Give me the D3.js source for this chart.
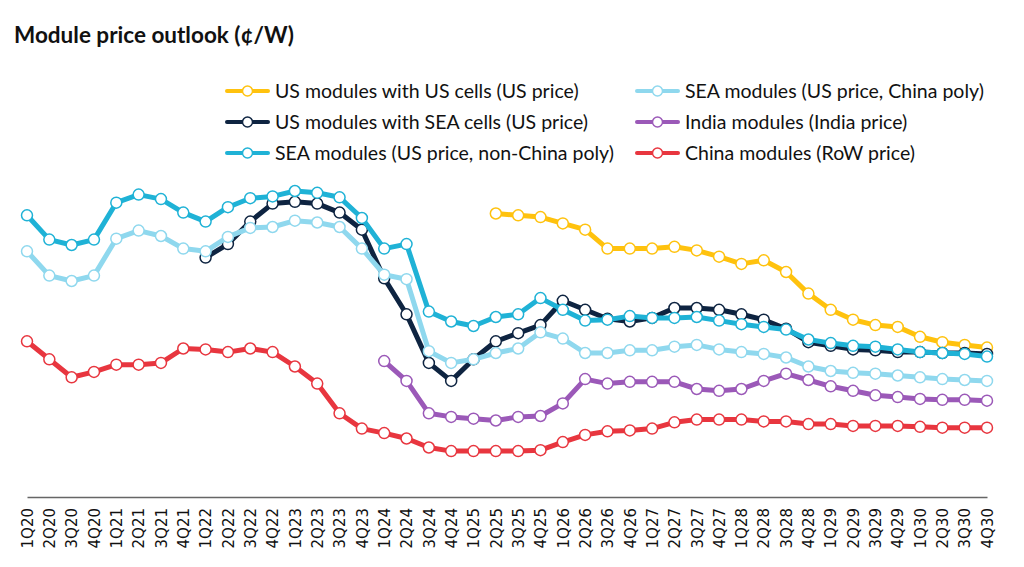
<!DOCTYPE html>
<html>
<head>
<meta charset="utf-8">
<script src="https://cdn.jsdelivr.net/npm/d3@7"></script>
<style>
  html, body { margin: 0; padding: 0; background: #fff; }
  svg { display: block; }
</style>
</head>
<body>
<svg id="chart" width="1024" height="567"></svg>
<script>
const quarters = [
  "1Q20","2Q20","3Q20","4Q20","1Q21","2Q21","3Q21","4Q21",
  "1Q22","2Q22","3Q22","4Q22","1Q23","2Q23","3Q23","4Q23",
  "1Q24","2Q24","3Q24","4Q24","1Q25","2Q25","3Q25","4Q25",
  "1Q26","2Q26","3Q26","4Q26","1Q27","2Q27","3Q27","4Q27",
  "1Q28","2Q28","3Q28","4Q28","1Q29","2Q29","3Q29","4Q29",
  "1Q30","2Q30","3Q30","4Q30"
];
const _ = null;

const usModulesUsCells = [
  _,_,_,_,_,_,_,_,
  _,_,_,_,_,_,_,_,
  _,_,_,_,_,37.5,37.3,37.1,
  36.4,35.7,33.6,33.6,33.6,33.8,33.4,32.7,
  31.9,32.3,31.0,28.6,26.8,25.7,25.1,24.9,
  23.8,23.2,22.9,22.6
];
const usModulesSeaCells = [
  _,_,_,_,_,_,_,_,
  32.6,34.1,36.6,38.6,38.8,38.6,37.6,35.7,
  30.3,26.3,20.9,18.9,21.3,23.3,24.2,25.1,
  27.8,26.8,25.8,25.5,25.9,27.0,27.0,26.8,
  26.3,25.7,24.7,23.2,22.8,22.4,22.3,22.1,
  22.1,22.0,22.0,21.9
];
const seaNonChinaPoly = [
  37.3,34.6,34.0,34.6,38.7,39.6,39.1,37.6,
  36.6,38.2,39.2,39.4,40.0,39.8,39.3,37.0,
  33.6,34.1,26.6,25.5,25.0,26.0,26.3,28.1,
  26.8,25.6,25.7,26.1,25.9,25.9,26.0,25.6,
  25.2,24.9,24.6,23.5,23.1,22.8,22.7,22.4,
  22.1,22.0,21.9,21.6
];
const seaChinaPoly = [
  33.3,30.6,30.0,30.6,34.7,35.6,35.0,33.6,
  33.3,34.9,35.9,36.0,36.7,36.5,36.0,33.6,
  30.7,30.2,22.2,20.9,21.3,22.0,22.5,24.3,
  23.6,22.0,22.0,22.3,22.3,22.7,22.9,22.4,
  22.1,21.9,21.5,20.5,20.0,19.8,19.7,19.5,
  19.3,19.1,19.0,18.9
];
const indiaModules = [
  _,_,_,_,_,_,_,_,
  _,_,_,_,_,_,_,_,
  21.1,18.9,15.3,14.9,14.7,14.5,14.9,15.0,
  16.4,19.1,18.6,18.8,18.8,18.8,18.0,17.8,
  18.0,18.9,19.7,19.0,18.3,17.8,17.3,17.1,
  16.9,16.8,16.8,16.7
];
const chinaModules = [
  23.3,21.3,19.3,19.9,20.7,20.7,20.9,22.5,
  22.4,22.1,22.5,22.1,20.5,18.6,15.3,13.6,
  13.1,12.5,11.5,11.1,11.1,11.1,11.1,11.2,
  12.1,12.9,13.3,13.4,13.6,14.3,14.6,14.6,
  14.6,14.4,14.4,14.1,14.1,13.9,13.9,13.9,
  13.8,13.7,13.7,13.7
];

const seriesNames = [
  "US modules with US cells (US price)",
  "US modules with SEA cells (US price)",
  "SEA modules (US price, non-China poly)",
  "SEA modules (US price, China poly)",
  "India modules (India price)",
  "China modules (RoW price)"
];
const seriesColors = ["#FFC20E", "#0E2441", "#1FB2D6", "#8FD8EE", "#9B59B8", "#E8363F"];
const seriesValues = [usModulesUsCells, usModulesSeaCells, seaNonChinaPoly, seaChinaPoly, indiaModules, chinaModules];

const svg = d3.select("#chart");
const font = "Lato, 'Open Sans', sans-serif";

// title
svg.append("text")
  .attr("x", 14).attr("y", 43)
  .attr("font-family", font).attr("font-weight", 700)
  .attr("font-size", 22.5).attr("fill", "#111")
  .text("Module price outlook (¢/W)");

const x = d3.scalePoint().domain(quarters).range([27, 987]);
const y = d3.scaleLinear().domain([6, 45]).range([497, 146]);

// axis
const axisG = svg.append("g").attr("transform", "translate(0,497)")
  .call(d3.axisBottom(x).tickSize(0).tickSizeOuter(0));
axisG.select(".domain").attr("stroke", "#666").attr("stroke-width", 1.5);
axisG.selectAll(".tick text")
  .attr("transform", "rotate(-90)")
  .attr("text-anchor", "end")
  .attr("x", -11).attr("y", 0).attr("dy", "0.35em")
  .attr("font-family", "'DejaVu Sans', Verdana, sans-serif")
  .attr("font-size", 15).attr("fill", "#111");

const line = d3.line()
  .defined(d => d.v != null)
  .x(d => x(d.q)).y(d => y(d.v));

seriesValues.forEach((vals, i) => {
  const data = quarters.map((q, j) => ({ q: q, v: vals[j] }));
  const g = svg.append("g");
  g.append("path").datum(data)
    .attr("d", line)
    .attr("fill", "none")
    .attr("stroke", seriesColors[i])
    .attr("stroke-width", 5)
    .attr("stroke-linejoin", "round")
    .attr("stroke-linecap", "round");
  g.selectAll("circle").data(data.filter(d => d.v != null)).join("circle")
    .attr("cx", d => x(d.q)).attr("cy", d => y(d.v))
    .attr("r", 5.5)
    .attr("fill", "#fff")
    .attr("stroke", seriesColors[i])
    .attr("stroke-width", 1.5);
});

// legend
const legendCols = [227, 637];
const legendRows = [91, 122, 153];
seriesNames.forEach((name, i) => {
  const col = Math.floor(i / 3), row = i % 3;
  const lx = legendCols[col], ly = legendRows[row];
  const g = svg.append("g").attr("transform", `translate(${lx},${ly})`);
  g.append("line").attr("x1", 0).attr("x2", 41).attr("y1", 0).attr("y2", 0)
    .attr("stroke", seriesColors[i]).attr("stroke-width", 4).attr("stroke-linecap", "round");
  g.append("circle").attr("cx", 20.5).attr("cy", 0).attr("r", 5)
    .attr("fill", "#fff").attr("stroke", seriesColors[i]).attr("stroke-width", 1.5);
  g.append("text").attr("x", 48).attr("y", 0).attr("dy", "0.35em")
    .attr("font-family", font).attr("font-size", 19.5).attr("fill", "#111")
    .text(name);
});
</script>
</body>
</html>
